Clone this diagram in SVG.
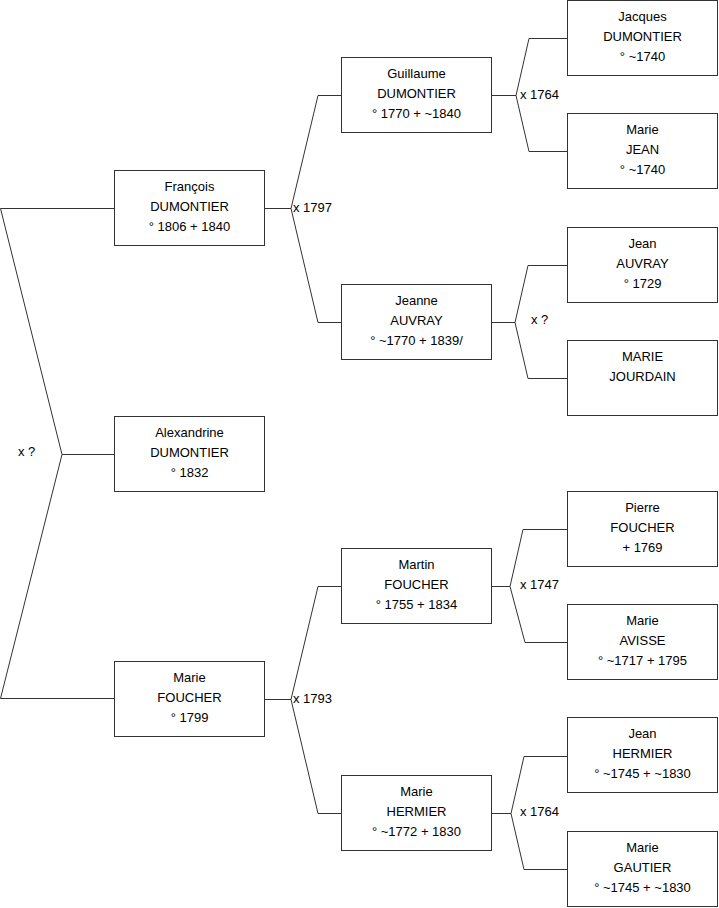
<svg xmlns="http://www.w3.org/2000/svg" width="719" height="908" viewBox="0 0 719 908">
<style>
.box{fill:#fff;stroke:#333;stroke-width:1}
.c{fill:none;stroke:#333;stroke-width:1}
text{font-family:"Liberation Sans",Arial,sans-serif;font-size:13px;fill:#000}
.m{text-anchor:middle}
</style>
<rect width="719" height="908" fill="#fff"/>
<g id="connectors">
<path class="c" d="M0.5,208.5 H114.5 M0.5,208.5 L62,454.5 H114.5 M62,454.5 L0.5,698.5 H114.5"/>
<path class="c" d="M265,208.5 H291 L318,95.5 H341 M291,208.5 L318,322.5 H341"/>
<path class="c" d="M491.5,95.5 H516 L529,38.5 H567 M516,95.5 L529,151.5 H567"/>
<path class="c" d="M491.5,322.5 H515 L528,265.5 H567 M515,322.5 L528,378.5 H567"/>
<path class="c" d="M491.5,586.5 H510 L523,529.5 H567 M510,586.5 L525,642.5 H567"/>
<path class="c" d="M265,699.5 H291 L318,586.5 H341 M291,699.5 L318,813.5 H341"/>
<path class="c" d="M491.5,813.5 H511 L524,756.5 H567 M511,813.5 L524,869.5 H567"/>
<text x="18" y="456">x ?</text>
<text x="293" y="212">x 1797</text>
<text x="520" y="99">x 1764</text>
<text x="531" y="324">x ?</text>
<text x="520" y="589">x 1747</text>
<text x="293" y="703">x 1793</text>
<text x="520" y="816">x 1764</text>
</g>
<g id="francois">
<rect class="box" x="114.5" y="170.5" width="150" height="75"/>
<text class="m" x="189.5" y="191">François</text>
<text class="m" x="189.5" y="211">DUMONTIER</text>
<text class="m" x="189.5" y="231">° 1806 + 1840</text>
</g>
<g id="alexandrine">
<rect class="box" x="114.5" y="416.5" width="150" height="75"/>
<text class="m" x="189.5" y="437">Alexandrine</text>
<text class="m" x="189.5" y="457">DUMONTIER</text>
<text class="m" x="189.5" y="477">° 1832</text>
</g>
<g id="marie-foucher">
<rect class="box" x="114.5" y="661.5" width="150" height="75"/>
<text class="m" x="189.5" y="682">Marie</text>
<text class="m" x="189.5" y="702">FOUCHER</text>
<text class="m" x="189.5" y="722">° 1799</text>
</g>
<g id="guillaume">
<rect class="box" x="341.5" y="57.5" width="150" height="75"/>
<text class="m" x="416.5" y="78">Guillaume</text>
<text class="m" x="416.5" y="98">DUMONTIER</text>
<text class="m" x="416.5" y="118">° 1770 + ~1840</text>
</g>
<g id="jeanne">
<rect class="box" x="341.5" y="284.5" width="150" height="75"/>
<text class="m" x="416.5" y="305">Jeanne</text>
<text class="m" x="416.5" y="325">AUVRAY</text>
<text class="m" x="416.5" y="345">° ~1770 + 1839/</text>
</g>
<g id="martin">
<rect class="box" x="341.5" y="548.5" width="150" height="75"/>
<text class="m" x="416.5" y="569">Martin</text>
<text class="m" x="416.5" y="589">FOUCHER</text>
<text class="m" x="416.5" y="609">° 1755 + 1834</text>
</g>
<g id="marie-hermier">
<rect class="box" x="341.5" y="775.5" width="150" height="75"/>
<text class="m" x="416.5" y="796">Marie</text>
<text class="m" x="416.5" y="816">HERMIER</text>
<text class="m" x="416.5" y="836">° ~1772 + 1830</text>
</g>
<g id="jacques">
<rect class="box" x="567.5" y="0.5" width="150" height="75"/>
<text class="m" x="642.5" y="21">Jacques</text>
<text class="m" x="642.5" y="41">DUMONTIER</text>
<text class="m" x="642.5" y="61">° ~1740</text>
</g>
<g id="marie-jean">
<rect class="box" x="567.5" y="113.5" width="150" height="75"/>
<text class="m" x="642.5" y="134">Marie</text>
<text class="m" x="642.5" y="154">JEAN</text>
<text class="m" x="642.5" y="174">° ~1740</text>
</g>
<g id="jean-auvray">
<rect class="box" x="567.5" y="227.5" width="150" height="75"/>
<text class="m" x="642.5" y="248">Jean</text>
<text class="m" x="642.5" y="268">AUVRAY</text>
<text class="m" x="642.5" y="288">° 1729</text>
</g>
<g id="marie-jourdain">
<rect class="box" x="567.5" y="340.5" width="150" height="75"/>
<text class="m" x="642.5" y="361">MARIE</text>
<text class="m" x="642.5" y="381">JOURDAIN</text>
</g>
<g id="pierre">
<rect class="box" x="567.5" y="491.5" width="150" height="75"/>
<text class="m" x="642.5" y="512">Pierre</text>
<text class="m" x="642.5" y="532">FOUCHER</text>
<text class="m" x="642.5" y="552">+ 1769</text>
</g>
<g id="marie-avisse">
<rect class="box" x="567.5" y="604.5" width="150" height="75"/>
<text class="m" x="642.5" y="625">Marie</text>
<text class="m" x="642.5" y="645">AVISSE</text>
<text class="m" x="642.5" y="665">° ~1717 + 1795</text>
</g>
<g id="jean-hermier">
<rect class="box" x="567.5" y="717.5" width="150" height="75"/>
<text class="m" x="642.5" y="738">Jean</text>
<text class="m" x="642.5" y="758">HERMIER</text>
<text class="m" x="642.5" y="778">° ~1745 + ~1830</text>
</g>
<g id="marie-gautier">
<rect class="box" x="567.5" y="831.5" width="150" height="75"/>
<text class="m" x="642.5" y="852">Marie</text>
<text class="m" x="642.5" y="872">GAUTIER</text>
<text class="m" x="642.5" y="892">° ~1745 + ~1830</text>
</g>
</svg>
